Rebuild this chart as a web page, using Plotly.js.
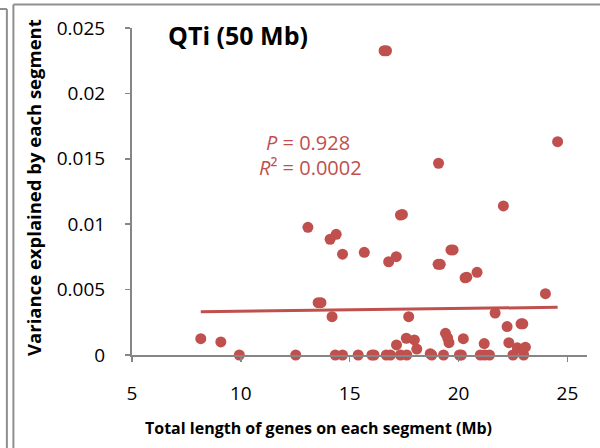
<!DOCTYPE html>
<html>
<head>
<meta charset="utf-8">
<script src="https://cdn.plot.ly/plotly-3.0.1.min.js"></script>
<style>
  html, body { margin: 0; padding: 0; background: #ffffff; }
  #chart { width: 600px; height: 448px; }
</style>
</head>
<body>
<div id="chart"></div>
<script>
// Data
var geneLengthMb = [
  8.16, 9.08, 9.93, 12.52, 13.08, 13.55, 13.68, 14.10, 14.38, 14.19,
  14.34, 14.67, 14.67, 15.39, 15.67, 16.02, 16.12, 16.68, 16.87, 16.79,
  17.14, 17.33, 17.42, 17.15, 17.33, 17.62, 17.60, 17.71, 17.97, 18.08,
  18.70, 18.77, 19.06, 19.16, 19.31, 19.40, 19.50, 19.56, 19.65, 19.75,
  20.04, 20.13, 20.22, 20.30, 20.38, 20.85, 21.00, 21.20, 21.42, 21.18,
  21.68, 22.06, 22.23, 22.31, 22.50, 22.70, 22.87, 22.95, 23.07, 22.99,
  23.99, 24.55, 19.08, 16.58, 16.69
];
var varianceExplained = [
  0.00125, 0.00100, 0.00000, 0.00000, 0.00976, 0.00400, 0.00400, 0.00885, 0.00923, 0.00293,
  0.00000, 0.00000, 0.00771, 0.00000, 0.00785, 0.00000, 0.00000, 0.00000, 0.00000, 0.00713,
  0.00752, 0.01070, 0.01075, 0.00077, 0.00000, 0.00000, 0.00128, 0.00293, 0.00115, 0.00045,
  0.00010, 0.00000, 0.00693, 0.00693, 0.00000, 0.00166, 0.00130, 0.00094, 0.00803, 0.00803,
  0.00000, 0.00000, 0.00125, 0.00590, 0.00595, 0.00632, 0.00000, 0.00000, 0.00000, 0.00087,
  0.00321, 0.01140, 0.00217, 0.00094, 0.00000, 0.00055, 0.00238, 0.00238, 0.00060, 0.00000,
  0.00469, 0.01631, 0.01466, 0.02326, 0.02326
];
// Linear trend line end points
var trendX = [8.16, 24.55];
var trendY = [0.00331, 0.00365];
var xTickVals = [5, 10, 15, 20, 25];
var yTickVals = [0, 0.005, 0.01, 0.015, 0.02, 0.025];
var yTickText = ['0', '0.005', '0.01', '0.015', '0.02', '0.025'];
var chartTitle = 'QTi (50 Mb)';
var xTitle = 'Total length of genes on each segment (Mb)';
var yTitle = 'Variance explained by each segment';
var statP = '<i>P</i> = 0.928';
var statR2 = '<i>R</i>² = 0.0002';

var RED = '#C0504D';
var AXIS = '#868686';
var FONT = 'Open Sans, Lato, sans-serif';

// plot area in pixels
var L = 132, R = 586.6, T = 28, B = 355;
function px2x(p) { return (p - L) / (R - L); }
function px2y(p) { return (B - p) / (B - T); }

var traces = [
  {
    x: trendX, y: trendY, type: 'scatter', mode: 'lines',
    line: { color: RED, width: 3 }, hoverinfo: 'skip', showlegend: false
  },
  {
    x: geneLengthMb, y: varianceExplained, type: 'scatter', mode: 'markers',
    marker: { color: RED, size: 11, line: { width: 0 } }, showlegend: false, cliponaxis: false
  }
];

var frameColor = '#8f8f8f';
var shapes = [
  { type: 'line', xref: 'paper', yref: 'paper', x0: px2x(7), x1: px2x(7), y0: px2y(9), y1: px2y(460), line: { color: frameColor, width: 2 } },
  { type: 'line', xref: 'paper', yref: 'paper', x0: px2x(-5), x1: px2x(7), y0: px2y(9), y1: px2y(9), line: { color: frameColor, width: 2 } },
  { type: 'line', xref: 'paper', yref: 'paper', x0: px2x(13.5), x1: px2x(13.5), y0: px2y(4.5), y1: px2y(460), line: { color: frameColor, width: 2 } },
  { type: 'line', xref: 'paper', yref: 'paper', x0: px2x(13.5), x1: px2x(610), y0: px2y(4.5), y1: px2y(4.5), line: { color: frameColor, width: 2 } }
];

var layout = {
  width: 600, height: 448,
  margin: { l: L, r: 600 - R, t: T, b: 448 - B, pad: 0 },
  paper_bgcolor: '#ffffff', plot_bgcolor: '#ffffff',
  font: { family: FONT, color: '#000000', size: 16 },
  showlegend: false,
  xaxis: {
    range: [5, 25.9], tickvals: xTickVals, ticktext: xTickVals.map(String),
    showgrid: false, zeroline: false, showline: true, linecolor: AXIS, linewidth: 2,
    ticks: 'outside', ticklen: 5, tickwidth: 1.5, tickcolor: AXIS,
    tickfont: { family: FONT, size: 19, color: '#000' }, ticklabelstandoff: 15
  },
  yaxis: {
    range: [0, 0.025], tickvals: yTickVals, ticktext: yTickText,
    showgrid: false, zeroline: false, showline: true, linecolor: AXIS, linewidth: 2,
    ticks: 'outside', ticklen: 5, tickwidth: 1.5, tickcolor: AXIS,
    tickfont: { family: FONT, size: 19, color: '#000' }, ticklabelstandoff: 16
  },
  shapes: shapes,
  annotations: [
    { xref: 'paper', yref: 'paper', x: px2x(166), y: px2y(35), xanchor: 'left', yanchor: 'middle',
      text: '<b>' + chartTitle + '</b>', showarrow: false, font: { family: FONT, size: 25, color: '#000' } },
    { xref: 'paper', yref: 'paper', x: px2x(318), y: px2y(428), xanchor: 'center', yanchor: 'middle',
      text: '<b>' + xTitle + '</b>', showarrow: false, font: { family: FONT, size: 16, color: '#000' } },
    { xref: 'paper', yref: 'paper', x: px2x(33), y: px2y(187), xanchor: 'center', yanchor: 'middle', textangle: -90,
      text: '<b>' + yTitle + '</b>', showarrow: false, font: { family: FONT, size: 18.5, color: '#000' } },
    { xref: 'paper', yref: 'paper', x: px2x(308), y: px2y(142), xanchor: 'center', yanchor: 'middle',
      text: statP, showarrow: false, font: { family: FONT, size: 20, color: RED } },
    { xref: 'paper', yref: 'paper', x: px2x(310), y: px2y(168), xanchor: 'center', yanchor: 'middle',
      text: statR2, showarrow: false, font: { family: FONT, size: 20, color: RED } }
  ]
};

Plotly.newPlot('chart', traces, layout, { staticPlot: true, displayModeBar: false });
</script>
</body>
</html>
